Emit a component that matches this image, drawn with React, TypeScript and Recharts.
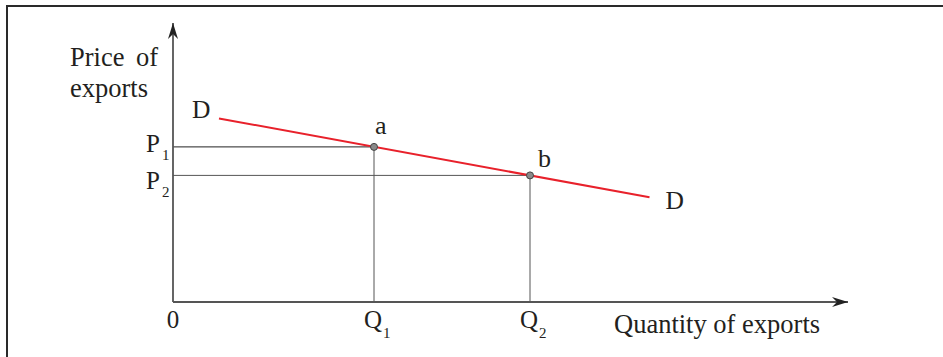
import React from 'react';
import { ComposedChart, Line, XAxis, YAxis, ReferenceLine, ReferenceDot } from 'recharts';

// demand curve D, drawn between its two end points
const demandX = [9.2, 95.3];
const demandY = [61.2, 34.9];

// the two marked points on D
const pointNames = ['a', 'b'];
const quantities = [40.2, 71.4];
const prices = [51.7, 42.2];

// tick labels (letter + subscript)
const xTickLetters = ['0', 'Q', 'Q'];
const xTickSubs = ['', '1', '2'];
const yTickLetters = ['P', 'P'];
const yTickSubs = ['1', '2'];

const xMax = 135;
const yMax = 93;

const demandData = demandX.map((x, i) => ({ x, y: demandY[i] }));
const xTicks = [0, ...quantities];

const FONT = '"Liberation Serif", "Times New Roman", serif';
const INK = '#231f20';

const XTick = (props: any) => {
  const { x, y, payload } = props;
  const i = xTicks.indexOf(payload.value);
  if (i === 0) {
    return (
      <text x={x} y={y + 26} textAnchor="middle" fontFamily={FONT} fontSize={25} fill={INK}>
        {xTickLetters[i]}
      </text>
    );
  }
  return (
    <g>
      <text x={x + 8} y={y + 26} textAnchor="end" fontFamily={FONT} fontSize={25} fill={INK}>
        {xTickLetters[i]}
      </text>
      <text x={x + 9} y={y + 36} fontFamily={FONT} fontSize={15} fill={INK}>
        {xTickSubs[i]}
      </text>
    </g>
  );
};

const YTick = (props: any) => {
  const { x, y, payload } = props;
  const i = prices.indexOf(payload.value);
  // P2 sits below its line so the two labels do not collide
  const shift = i === 0 ? 5 : 14;
  return (
    <g>
      <text x={x - 13} y={y + shift} textAnchor="end" fontFamily={FONT} fontSize={25} fill={INK}>
        {yTickLetters[i]}
      </text>
      <text x={x - 11} y={y + shift + 8} fontFamily={FONT} fontSize={15} fill={INK}>
        {yTickSubs[i]}
      </text>
    </g>
  );
};

const YTitle = ({ viewBox }: any) => (
  <text fontFamily={FONT} fontSize={26.5} fill={INK}>
    <tspan x={viewBox.x + 70} y={viewBox.y + 43} wordSpacing={5}>Price of</tspan>
    <tspan x={viewBox.x + 70} y={viewBox.y + 74}>exports</tspan>
  </text>
);

const XTitle = ({ viewBox }: any) => (
  <text x={viewBox.x + 441} y={viewBox.y + 31} fontFamily={FONT} fontSize={26.5} fill={INK}>
    Quantity of exports
  </text>
);

const DLabel = (props: any) => {
  const { x, y, index } = props;
  const first = index === 0;
  return (
    <text x={first ? x - 27 : x + 16} y={first ? y : y + 12} fontFamily={FONT} fontSize={25.5} fill={INK}>
      D
    </text>
  );
};

const UpArrow = ({ cx, cy }: any) => (
  <path d={`M${cx},${cy} L${cx + 5},${cy + 16} L${cx},${cy + 11} L${cx - 5},${cy + 16} Z`} fill="#222" />
);

const RightArrow = ({ cx, cy }: any) => (
  <path d={`M${cx},${cy} L${cx - 16},${cy - 5} L${cx - 11},${cy} L${cx - 16},${cy + 5} Z`} fill="#222" />
);

const App: React.FC = () => {
  return (
    <div style={{ position: 'absolute', left: 0, top: 0, width: 943, height: 357, background: '#fff' }}>
      {/* frame: top and left edges only */}
      <div
        style={{
          position: 'absolute', left: 6, top: 5, right: 0, bottom: 0,
          borderTop: '2px solid #2a2a2a', borderLeft: '2px solid #2a2a2a',
        }}
      />
      <div style={{ position: 'absolute', left: 0, top: 0 }}>
        <ComposedChart width={943} height={357} margin={{ top: 23, right: 95, left: 0, bottom: 0 }}>
          <XAxis
            type="number" dataKey="x" domain={[0, xMax]} allowDataOverflow
            ticks={xTicks} tick={<XTick />} tickLine={false} tickSize={0} tickMargin={0}
            axisLine={{ stroke: '#555', strokeWidth: 1.8 }} height={55} interval={0}
            label={{ content: XTitle }}
          />
          <YAxis
            type="number" domain={[0, yMax]} allowDataOverflow
            ticks={prices} tick={<YTick />} tickLine={false} tickSize={0} tickMargin={0}
            axisLine={{ stroke: '#555', strokeWidth: 1.8 }} width={173} interval={0}
            label={{ content: YTitle }}
          />

          {/* guide lines from the axes to a and b */}
          <ReferenceLine segment={[{ x: 0, y: prices[0] }, { x: quantities[0], y: prices[0] }]} stroke="#222" strokeWidth={1} />
          <ReferenceLine segment={[{ x: quantities[0], y: 0 }, { x: quantities[0], y: prices[0] }]} stroke="#555" strokeWidth={1} />
          <ReferenceLine segment={[{ x: 0, y: prices[1] }, { x: quantities[1], y: prices[1] }]} stroke="#555" strokeWidth={1} />
          <ReferenceLine segment={[{ x: quantities[1], y: 0 }, { x: quantities[1], y: prices[1] }]} stroke="#555" strokeWidth={1} />

          <Line
            data={demandData} dataKey="y" stroke="#e8212b" strokeWidth={2}
            dot={false} isAnimationActive={false} label={<DLabel />}
          />

          <ReferenceDot
            x={quantities[0]} y={prices[0]} r={3.5} fill="#8a8a8a" stroke="#444" strokeWidth={1}
            label={{ content: ({ viewBox }: any) => (
              <text x={viewBox.x + viewBox.width / 2 + 1} y={viewBox.y - 9} fontFamily={FONT} fontSize={26} fill={INK}>{pointNames[0]}</text>
            ) }}
          />
          <ReferenceDot
            x={quantities[1]} y={prices[1]} r={3.5} fill="#8a8a8a" stroke="#444" strokeWidth={1}
            label={{ content: ({ viewBox }: any) => (
              <text x={viewBox.x + viewBox.width / 2 + 8} y={viewBox.y - 5} fontFamily={FONT} fontSize={26} fill={INK}>{pointNames[1]}</text>
            ) }}
          />

          <ReferenceDot x={0} y={yMax} ifOverflow="visible" shape={<UpArrow />} />
          <ReferenceDot x={xMax} y={0} ifOverflow="visible" shape={<RightArrow />} />
        </ComposedChart>
      </div>
    </div>
  );
};

export default App;
